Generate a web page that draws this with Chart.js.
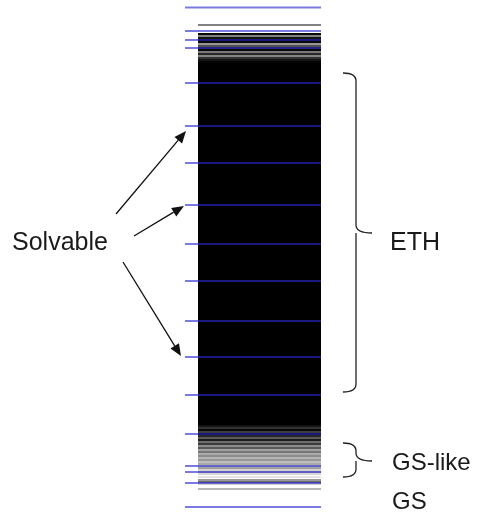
<!DOCTYPE html>
<html><head><meta charset="utf-8">
<script src="https://cdn.jsdelivr.net/npm/chart.js@4"></script>
<style>html,body{margin:0;padding:0;background:#fff;overflow:hidden}</style>
</head><body>
<canvas id="c" width="480" height="514"></canvas>
<script>
// Energies measured from the ground state (arbitrary units, GS = 0)
const solvableLevels = [499.5, 476, 467, 459, 424, 381, 344, 302, 263, 226, 186, 150, 112, 73, 41, 35, 24, 0];
// dense ETH band (continuum of levels): [lower, upper]
const ethBand = [82, 444];
// sparse / edge levels and their gray shade (0 = black, 255 = white)
const edgeLevels = [482,
  473, 471, 469, 467, 465, 463, 461, 459, 457, 455, 453, 451, 449, 447, 445,
  81, 79, 77, 75, 73, 71, 69, 67, 65, 63, 61, 59, 57, 55, 53, 51, 49, 47, 45, 43, 41, 39, 37, 35, 33, 30, 27, 25, 23, 18];
const edgeShades = [130,
  10, 130, 20, 0, 10, 150, 80, 30, 10, 120, 40, 130, 50, 20, 5,
  20, 50, 10, 60, 0, 40, 90, 30, 110, 60, 140, 90, 160, 120, 170, 140, 180, 150, 190, 170, 200, 160, 210, 180, 200, 220, 120, 60, 190, 160];
const energyRange = [-7, 507];

const X_LEVEL = [198, 321], X_SOLV = [185, 321];

const datasets = [];
solvableLevels.forEach(e => datasets.push({
  data: [{x: X_SOLV[0], y: e}, {x: X_SOLV[1], y: e}],
  borderColor: 'rgba(40,40,205,0.62)', borderWidth: 2, order: 0
}));
edgeLevels.forEach((e, i) => {
  const s = edgeShades[i];
  datasets.push({
    data: [{x: X_LEVEL[0], y: e}, {x: X_LEVEL[1], y: e}],
    borderColor: `rgb(${s},${s},${s})`, borderWidth: (e < 35) ? 1.6 : 2.2, order: 1
  });
});
datasets.push({
  data: [{x: X_LEVEL[0], y: ethBand[1]}, {x: X_LEVEL[1], y: ethBand[1]}],
  borderColor: '#000', borderWidth: 1, backgroundColor: '#000',
  fill: {value: ethBand[0]}, order: 2
});

const annot = {
  id: 'annot',
  afterDraw(chart) {
    const ctx = chart.ctx, xs = chart.scales.x, ys = chart.scales.y;
    const py = v => ys.getPixelForValue(v);
    ctx.save();
    ctx.fillStyle = '#1a1a1a';
    ctx.font = '25px "Liberation Sans", Arial, sans-serif';
    ctx.textBaseline = 'alphabetic';
    ctx.fillText('Solvable', 12, 250);
    ctx.fillText('ETH', 390, 250);
    ctx.font = '24px "Liberation Sans", Arial, sans-serif';
    ctx.fillText('GS-like', 392, 470);
    ctx.fillText('GS', 392, 509);
    const arrow = (x0, y0, x1, y1) => {
      ctx.strokeStyle = '#111'; ctx.fillStyle = '#111'; ctx.lineWidth = 1.3;
      const a = Math.atan2(y1 - y0, x1 - x0), L = 12, W = 5;
      const bx = x1 - L * Math.cos(a), by = y1 - L * Math.sin(a);
      ctx.beginPath(); ctx.moveTo(x0, y0); ctx.lineTo(bx, by); ctx.stroke();
      ctx.beginPath(); ctx.moveTo(x1, y1);
      ctx.lineTo(bx + W * Math.sin(a), by - W * Math.cos(a));
      ctx.lineTo(bx - W * Math.sin(a), by + W * Math.cos(a));
      ctx.closePath(); ctx.fill();
    };
    arrow(116, 214, 186, 131);
    arrow(134, 236, 184, 206);
    arrow(123, 262, 181, 356);
    const brace = (yTop, yBot, yMid) => {
      const x0 = 343, x1 = 356, xt = 372, r = 8;
      ctx.strokeStyle = '#222'; ctx.lineWidth = 1.3;
      ctx.beginPath();
      ctx.moveTo(x0, yTop);
      ctx.quadraticCurveTo(x1, yTop, x1, yTop + r);
      ctx.lineTo(x1, yMid - r);
      ctx.quadraticCurveTo(x1, yMid, xt, yMid);
      ctx.moveTo(x1, yMid);
      ctx.quadraticCurveTo(x1, yMid, x1, yMid + r);
      ctx.lineTo(x1, yBot - r);
      ctx.quadraticCurveTo(x1, yBot, x0, yBot);
      ctx.stroke();
    };
    brace(py(434), py(115), py(274));
    brace(py(64), py(30), py(46));
    ctx.restore();
  }
};

new Chart(document.getElementById('c'), {
  type: 'scatter',
  data: {datasets},
  options: {
    responsive: false, animation: false,
    layout: {padding: 0},
    datasets: {scatter: {showLine: true, pointRadius: 0, pointHoverRadius: 0}},
    plugins: {legend: {display: false}, tooltip: {enabled: false}},
    events: [],
    scales: {
      x: {type: 'linear', display: false, min: 0, max: 480},
      y: {type: 'linear', display: false, min: energyRange[0], max: energyRange[1]}
    }
  },
  plugins: [annot]
});
</script>
</body></html>
